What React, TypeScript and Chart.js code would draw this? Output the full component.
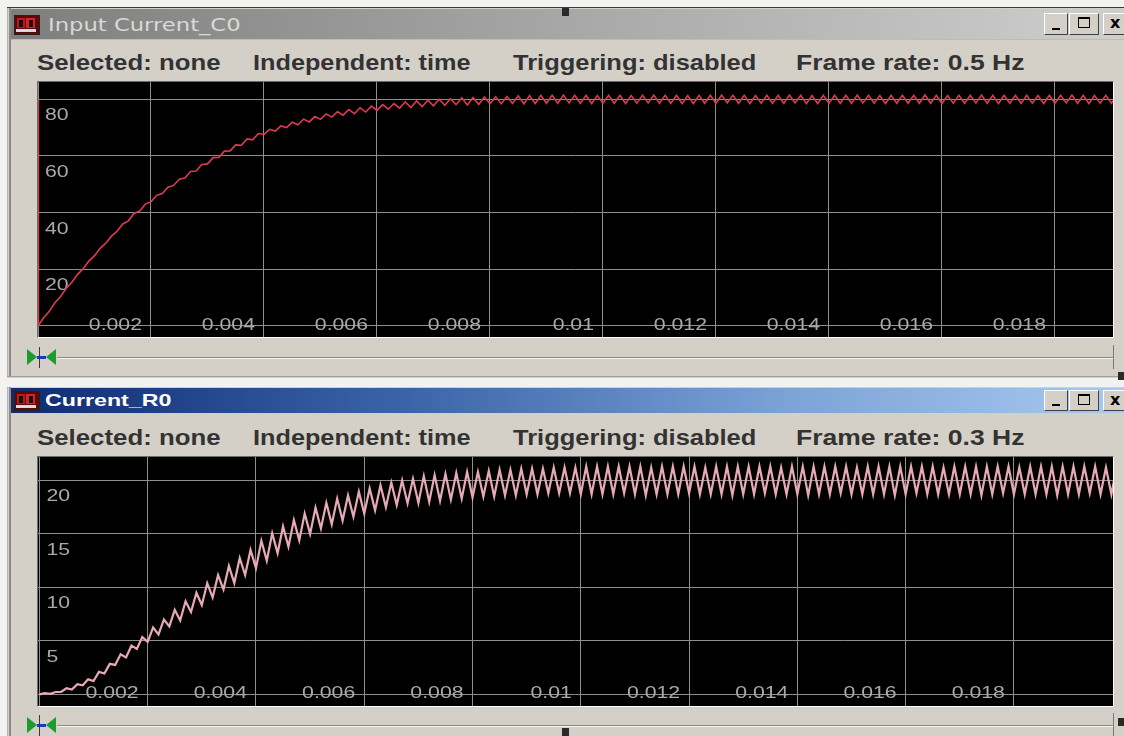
import React, { useEffect, useLayoutEffect, useRef, useState } from 'react';
import { Chart, registerables } from 'chart.js';

Chart.register(...registerables);

// ---------- data ----------
const TIME_STEP = 0.0001; // seconds between samples (half a ripple period)

const xTickValues = [0.002, 0.004, 0.006, 0.008, 0.01, 0.012, 0.014, 0.016, 0.018];
const xTickLabels = ['0.002', '0.004', '0.006', '0.008', '0.01', '0.012', '0.014', '0.016', '0.018'];

const topYTicks = [20, 40, 60, 80];
const topYLabels = ['20', '40', '60', '80'];
const bottomYTicks = [5, 10, 15, 20];
const bottomYLabels = ['5', '10', '15', '20'];

// Input Current_C0 (one sample every TIME_STEP)
const inputCurrentC0 = [
  0, 2.9, 5.2, 8.2, 10.4, 13.3, 15.4, 18.2, 20.2, 22.9,
  24.8, 27.4, 29.2, 31.7, 33.4, 36.0, 37.1, 39.7, 40.6, 43.0,
  43.8, 46.1, 46.7, 49.0, 49.6, 51.8, 52.2, 54.5, 54.7, 57.0,
  57.2, 59.4, 59.5, 61.7, 61.8, 63.9, 63.8, 66.0, 65.7, 67.9,
  67.6, 69.4, 68.8, 70.6, 70.0, 71.9, 71.0, 73.0, 72.0, 73.9,
  72.9, 74.8, 73.7, 75.6, 74.4, 76.4, 74.9, 77.0, 75.5, 77.6,
  76.1, 78.1, 76.5, 78.5, 76.9, 79.1, 77.1, 79.4, 77.4, 79.7,
  77.7, 80.0, 77.9, 80.2, 78.1, 80.5, 78.0, 80.6, 78.2, 80.8,
  78.4, 80.9, 78.4, 81.0, 78.5, 81.2, 78.4, 81.3, 78.5, 81.4,
  78.6, 81.4, 78.6, 81.5, 78.7, 81.4, 78.6, 81.4, 78.5, 81.3,
  78.6, 81.4, 78.6, 81.4, 78.5, 81.3, 78.6, 81.4, 78.7, 81.5,
  78.6, 81.4, 78.6, 81.4, 78.5, 81.3, 78.5, 81.4, 78.6, 81.4,
  78.6, 81.5, 78.7, 81.4, 78.6, 81.4, 78.5, 81.3, 78.6, 81.4,
  78.6, 81.4, 78.6, 81.5, 78.7, 81.4, 78.5, 81.3, 78.5, 81.4,
  78.6, 81.4, 78.6, 81.4, 78.6, 81.5, 78.7, 81.4, 78.6, 81.3,
  78.5, 81.4, 78.6, 81.4, 78.6, 81.4, 78.6, 81.5, 78.6, 81.4,
  78.5, 81.3, 78.6, 81.4, 78.6, 81.4, 78.7, 81.5, 78.6, 81.4,
  78.5, 81.4, 78.6, 81.4, 78.6, 81.4, 78.6, 81.3, 78.5, 81.4,
  78.6, 81.4, 78.7, 81.5, 78.6, 81.4, 78.5, 81.3, 78.6, 81.4,
  78.6, 81.4,
];

// trace left over on the y axis of the first scope (time, value)
const c0AxisTraceTimes = [0, 0];
const c0AxisTraceValues = [0, 80];

// Current_R0 (one sample every TIME_STEP)
const currentR0 = [
  0.0, 0.12, 0.05, 0.22, 0.23, 0.57, 0.45, 0.95, 0.85, 1.4,
  1.25, 2.1, 1.95, 2.85, 2.75, 3.75, 3.45, 4.55, 4.25, 5.35,
  4.9, 6.25, 5.6, 7.0, 6.35, 7.9, 6.9, 8.7, 7.7, 9.5,
  8.35, 10.4, 9.05, 11.15, 9.8, 12.0, 10.4, 12.75, 11.15, 13.5,
  11.8, 14.35, 12.5, 15.05, 13.2, 15.7, 13.8, 16.3, 14.4, 16.9,
  15.0, 17.45, 15.5, 17.9, 15.9, 18.3, 16.25, 18.6, 16.6, 18.95,
  16.9, 19.25, 17.2, 19.55, 17.5, 19.8, 17.7, 20.0, 17.85, 20.15,
  17.9, 20.4, 18.0, 20.5, 18.1, 20.6, 18.2, 20.7, 18.3, 20.8,
  18.4, 20.8, 18.5, 20.9, 18.5, 21.0, 18.6, 21.0, 18.6, 21.1,
  18.7, 21.1, 18.7, 21.1, 18.8, 21.2, 18.8, 21.2, 18.8, 21.2,
  18.7, 21.3, 18.7, 21.3, 18.7, 21.3, 18.7, 21.3, 18.8, 21.3,
  18.7, 21.3, 18.6, 21.2, 18.7, 21.3, 18.7, 21.3, 18.7, 21.3,
  18.8, 21.3, 18.7, 21.2, 18.7, 21.3, 18.7, 21.3, 18.6, 21.3,
  18.7, 21.3, 18.7, 21.3, 18.8, 21.3, 18.7, 21.2, 18.7, 21.3,
  18.7, 21.3, 18.6, 21.3, 18.7, 21.3, 18.7, 21.3, 18.8, 21.3,
  18.7, 21.2, 18.7, 21.3, 18.7, 21.3, 18.7, 21.3, 18.6, 21.3,
  18.7, 21.3, 18.8, 21.3, 18.7, 21.3, 18.7, 21.2, 18.7, 21.3,
  18.7, 21.3, 18.7, 21.3, 18.6, 21.3, 18.7, 21.3, 18.8, 21.3,
  18.7, 21.2, 18.7, 21.3, 18.7, 21.3, 18.7, 21.3, 18.6, 21.3,
  18.7, 21.3, 18.7, 21.3, 18.8, 21.3, 18.7, 21.2, 18.7, 21.3,
];

const topStatus = ['Selected: none', 'Independent: time', 'Triggering: disabled', 'Frame rate: 0.5 Hz'];
const bottomStatus = ['Selected: none', 'Independent: time', 'Triggering: disabled', 'Frame rate: 0.3 Hz'];
const statusLefts = [37, 253, 513, 796];
const statusWidths = [183, 217, 243, 229];

// ---------- components ----------
type StretchProps = {
  text: string; left: number; centerY: number; width: number;
  size: number; weight?: string | number; color: string; family?: string;
};

function StretchText({ text, left, centerY, width, size, weight = 'normal', color, family }: StretchProps) {
  const ref = useRef<HTMLSpanElement>(null);
  const [scale, setScale] = useState(1);
  useLayoutEffect(() => {
    if (ref.current) {
      const w = ref.current.offsetWidth;
      if (w > 0) setScale(width / w);
    }
  }, [text, width]);
  return (
    <span
      ref={ref}
      style={{
        position: 'absolute', left, top: centerY, whiteSpace: 'nowrap',
        fontFamily: family || '"Liberation Sans", Arial, sans-serif',
        fontSize: size, fontWeight: weight as any, color, lineHeight: 1,
        transform: `translateY(-50%) scaleX(${scale})`, transformOrigin: 'left center',
      }}
    >{text}</span>
  );
}

type ScopeProps = {
  values: number[]; color: string; lineWidth: number;
  xMin: number; xMax: number; yMin: number; yMax: number;
  yTicks: number[]; yLabels: string[];
  width: number; height: number;
  axisTrace?: boolean;
};

function Scope(p: ScopeProps) {
  const ref = useRef<HTMLCanvasElement>(null);
  useEffect(() => {
    const canvas = ref.current!;
    const datasets: any[] = [];
    if (p.axisTrace) {
      datasets.push({
        data: c0AxisTraceValues.map((v, i) => ({ x: c0AxisTraceTimes[i], y: v })),
        borderColor: p.color, borderWidth: 2.4, pointRadius: 0,
      });
    }
    datasets.push({
      data: p.values.map((v, i) => ({ x: i * TIME_STEP, y: v })),
      borderColor: p.color, borderWidth: p.lineWidth, pointRadius: 0, tension: 0,
    });
    const labelPlugin = {
      id: 'scopeLabels',
      beforeDatasetsDraw(chart: any) {
        const { ctx } = chart;
        const xs = chart.scales.x;
        const ys = chart.scales.y;
        ctx.save();
        ctx.fillStyle = '#a9a9a9';
        ctx.font = '17px "Liberation Sans", Arial, sans-serif';
        ctx.textBaseline = 'alphabetic';
        const y0 = ys.getPixelForValue(0);
        xTickValues.forEach((v, i) => {
          const px = xs.getPixelForValue(v);
          ctx.save();
          ctx.translate(px - 9, y0 + 4);
          ctx.scale(1.25, 1);
          ctx.textAlign = 'right';
          ctx.fillText(xTickLabels[i], 0, 0);
          ctx.restore();
        });
        const x0 = xs.getPixelForValue(0);
        p.yTicks.forEach((v, i) => {
          const py = ys.getPixelForValue(v);
          ctx.save();
          ctx.translate(x0 + 7, py + 21);
          ctx.scale(1.25, 1);
          ctx.textAlign = 'left';
          ctx.fillText(p.yLabels[i], 0, 0);
          ctx.restore();
        });
        ctx.restore();
      },
    };
    const chart = new Chart(canvas, {
      type: 'line',
      data: { datasets },
      options: {
        animation: false,
        responsive: false,
        devicePixelRatio: 1,
        events: [],
        layout: { padding: 0 },
        plugins: { legend: { display: false }, tooltip: { enabled: false } },
        scales: {
          x: {
            type: 'linear', min: p.xMin, max: p.xMax,
            afterBuildTicks: (axis: any) => { axis.ticks = [0, ...xTickValues].map((v) => ({ value: v })); },
            afterFit: (axis: any) => { axis.height = 0; },
            ticks: { display: false },
            border: { display: false },
            grid: { color: '#8e8e8e', lineWidth: 1, drawTicks: false },
          },
          y: {
            type: 'linear', min: p.yMin, max: p.yMax,
            afterBuildTicks: (axis: any) => { axis.ticks = [0, ...p.yTicks].map((v) => ({ value: v })); },
            afterFit: (axis: any) => { axis.width = 0; },
            ticks: { display: false },
            border: { display: false },
            grid: { color: '#8e8e8e', lineWidth: 1, drawTicks: false },
          },
        },
      } as any,
      plugins: [labelPlugin],
    });
    return () => chart.destroy();
  }, []);
  return <canvas ref={ref} width={p.width} height={p.height} style={{ display: 'block', width: p.width, height: p.height }} />;
}

function Box(props: { l: number; t: number; w: number; h: number; bg: string; style?: React.CSSProperties; children?: React.ReactNode }) {
  return (
    <div style={{ position: 'absolute', left: props.l, top: props.t, width: props.w, height: props.h, background: props.bg, ...props.style }}>
      {props.children}
    </div>
  );
}

function WinIcon({ l, t }: { l: number; t: number }) {
  return (
    <Box l={l} t={t} w={24} h={18} bg="#5a0a0a" style={{ border: '1px solid #222' }}>
      <Box l={2} t={2} w={8} h={10} bg="#c01818" />
      <Box l={11} t={2} w={9} h={10} bg="#e02020" />
      <Box l={4} t={4} w={4} h={7} bg="#111" />
      <Box l={14} t={4} w={4} h={7} bg="#111" />
      <Box l={1} t={13} w={20} h={3} bg="#d8d8e8" />
    </Box>
  );
}

function WinButton({ l, t, w, h, kind }: { l: number; t: number; w: number; h: number; kind: 'min' | 'max' | 'close' }) {
  return (
    <Box l={l} t={t} w={w} h={h} bg="#d4d0c8"
      style={{ boxSizing: 'border-box', borderTop: '1px solid #ffffff', borderLeft: '1px solid #ffffff', borderRight: '1px solid #404040', borderBottom: '1px solid #404040' }}>
      {kind === 'min' && <Box l={Math.round(w / 2) - 5} t={h - 8} w={8} h={2} bg="#000" />}
      {kind === 'max' && (
        <Box l={Math.round(w / 2) - 7} t={3} w={12} h={11} bg="transparent"
          style={{ boxSizing: 'border-box', border: '1px solid #000', borderTop: '2px solid #000' }} />
      )}
      {kind === 'close' && (
        <span style={{ position: 'absolute', left: 6, top: -1, fontFamily: '"DejaVu Sans", sans-serif', fontWeight: 'bold', fontSize: 16, color: '#000' }}>x</span>
      )}
    </Box>
  );
}

function SliderRow({ y }: { y: number }) {
  return (
    <>
      <Box l={57} t={y} w={1056} h={1} bg="#8a8a8a" />
      <Box l={57} t={y + 1} w={1056} h={1} bg="#f4f4f4" />
      <Box l={1113} t={y - 12} w={1} h={24} bg="#7a7a7a" />
      <div style={{ position: 'absolute', left: 27, top: y - 8, width: 0, height: 0, borderTop: '8px solid transparent', borderBottom: '8px solid transparent', borderLeft: '10px solid #1f9a2c' }} />
      <div style={{ position: 'absolute', left: 46, top: y - 8, width: 0, height: 0, borderTop: '8px solid transparent', borderBottom: '8px solid transparent', borderRight: '10px solid #1f9a2c' }} />
      <Box l={37} t={y - 1} w={9} h={3} bg="#2233c8" />
      <Box l={39} t={y - 10} w={1} h={21} bg="#3a3a3a" />
    </>
  );
}

function PlotFrame({ t, h, children }: { t: number; h: number; children: React.ReactNode }) {
  return (
    <div style={{
      position: 'absolute', left: 37, top: t - 1, width: 1075, height: h, background: '#000',
      borderTop: '1px solid #6c6c6c', borderLeft: '1px solid #6c6c6c', borderRight: '1px solid #ffffff', borderBottom: '1px solid #ffffff',
    }}>
      {children}
    </div>
  );
}

export default function App() {
  return (
    <div style={{ position: 'fixed', left: 0, top: 0, width: 1124, height: 736, overflow: 'hidden', background: '#f2f2f0' }}>
      {/* ---- top window ---- */}
      <Box l={7} t={7} w={1130} h={370} bg="#d4d0c8" style={{ borderTop: '1px solid #3a3a3a' }} />
      <Box l={7} t={8} w={1} h={369} bg="#b4b4b4" />
      <Box l={9} t={8} w={2} h={369} bg="#8c8c8c" />
      <Box l={11} t={9} w={1126} h={30} bg="linear-gradient(to right, #7e7e7e, #a8a8a8 50%, #cfcfcf)" />
      <Box l={11} t={39} w={1126} h={1} bg="#bcbcbc" />
      <WinIcon l={14} t={15} />
      <StretchText text="Input Current_C0" left={48} centerY={25} width={192} size={17} weight="normal" color="#dcd9d2" family='"DejaVu Sans", sans-serif' />
      <WinButton l={1044} t={13} w={24} h={22} kind="min" />
      <WinButton l={1069} t={13} w={30} h={22} kind="max" />
      <WinButton l={1103} t={13} w={26} h={22} kind="close" />
      {topStatus.map((s, i) => (
        <StretchText key={'ts' + i} text={s} left={statusLefts[i]} centerY={63} width={statusWidths[i]} size={22} weight="bold" color="#333333" />
      ))}
      <PlotFrame t={82} h={255}>
        <Scope values={inputCurrentC0} color="#dc3c4c" lineWidth={1.6}
          xMin={0} xMax={0.019027} yMin={-3.9} yMax={86.1}
          yTicks={topYTicks} yLabels={topYLabels} width={1075} height={255} axisTrace />
      </PlotFrame>
      <SliderRow y={357} />
      <Box l={7} t={376} w={1130} h={1} bg="#a0a0a0" />

      {/* ---- bottom window ---- */}
      <Box l={7} t={387} w={1130} h={349} bg="#d4d0c8" />
      <Box l={7} t={387} w={1} h={349} bg="#b4b4b4" />
      <Box l={9} t={387} w={2} h={349} bg="#8c8c8c" />
      <Box l={11} t={388} w={1126} h={25} bg="linear-gradient(to right, #0f2b72, #3b64a8 35%, #7ea4d8 70%, #a8cbf0)" />
      <WinIcon l={14} t={391} />
      <StretchText text="Current_R0" left={45} centerY={400} width={127} size={17} weight="bold" color="#ffffff" />
      <WinButton l={1044} t={390} w={24} h={21} kind="min" />
      <WinButton l={1069} t={390} w={30} h={21} kind="max" />
      <WinButton l={1103} t={390} w={26} h={21} kind="close" />
      {bottomStatus.map((s, i) => (
        <StretchText key={'bs' + i} text={s} left={statusLefts[i]} centerY={438} width={statusWidths[i]} size={22} weight="bold" color="#333333" />
      ))}
      <PlotFrame t={457} h={249}>
        <Scope values={currentR0} color="#e8a9b6" lineWidth={2.2}
          xMin={-0.000026} xMax={0.01983} yMin={-1.09} yMax={22.19}
          yTicks={bottomYTicks} yLabels={bottomYLabels} width={1075} height={249} />
      </PlotFrame>
      <SliderRow y={725} />

      {/* selection handles */}
      <Box l={562} t={8} w={7} h={8} bg="#2a2a2a" />
      <Box l={562} t={728} w={7} h={8} bg="#2a2a2a" />
      <Box l={1118} t={372} w={6} h={8} bg="#2a2a2a" />
      <Box l={1118} t={718} w={6} h={8} bg="#2a2a2a" />
    </div>
  );
}
